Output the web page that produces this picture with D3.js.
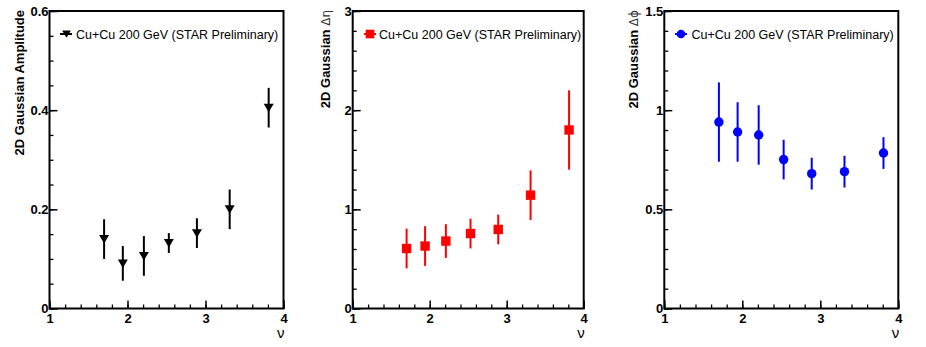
<!DOCTYPE html>
<html>
<head>
<meta charset="utf-8">
<script src="https://cdn.jsdelivr.net/npm/d3@7"></script>
<style>
  body { margin: 0; background: #fff; }
  svg { display: block; }
  text { font-family: "Liberation Sans", Arial, Helvetica, sans-serif; }
</style>
</head>
<body>
<div id="chart"></div>
<script>
// nu = N_bin / (N_part/2)
var nu = [1.70, 1.94, 2.21, 2.53, 2.89, 3.31, 3.81];

var amplitude    = [0.140, 0.091, 0.106, 0.132, 0.152, 0.200, 0.405];
var amplitudeErr = [0.040, 0.035, 0.040, 0.020, 0.030, 0.040, 0.040];

var widthEta    = [0.605, 0.630, 0.680, 0.756, 0.797, 1.143, 1.800];
var widthEtaErr = [0.20, 0.20, 0.17, 0.15, 0.15, 0.25, 0.40];

var widthPhi    = [0.940, 0.890, 0.875, 0.751, 0.680, 0.690, 0.784];
var widthPhiErr = [0.20, 0.15, 0.15, 0.10, 0.08, 0.08, 0.08];

var xTicks   = [1, 2, 3, 4];
var ampTicks = [0, 0.2, 0.4, 0.6];
var etaTicks = [0, 1, 2, 3];
var phiTicks = [0, 0.5, 1, 1.5];

var legendLabel = "Cu+Cu 200 GeV (STAR Preliminary)";

var W = 926, H = 347, plotTop = 11, plotBottom = 308.5;

var panels = [
  { left: 49.5, right: 283.5, values: amplitude, errs: amplitudeErr, yTicks: ampTicks, minor: 0.05,
    color: "#000", marker: "tri", title: ["2D Gaussian Amplitude", ""], titleX: 23.5,
    legX: 60, legM: 66.5, legT: 76 },
  { left: 352.7, right: 583.7, values: widthEta, errs: widthEtaErr, yTicks: etaTicks, minor: 0.2,
    color: "#ff0000", marker: "square", title: ["2D Gaussian ", "\u0394\u03b7"], titleX: 329.5,
    legX: 364, legM: 370, legT: 379 },
  { left: 664.3, right: 898.3, values: widthPhi, errs: widthPhiErr, yTicks: phiTicks, minor: 0.1,
    color: "#0000ff", marker: "circle", title: ["2D Gaussian ", "\u0394\u03d5"], titleX: 637.5,
    legX: 675, legM: 681, legT: 691.5 }
];

var svg = d3.select("#chart").append("svg")
  .attr("width", W)
  .attr("height", H);

function drawMarker(sel, type, color, s) {
  if (type == "tri") {
    sel.append("path")
      .attr("d", "M" + (-s) + "," + (-s * 0.8) + "L" + s + "," + (-s * 0.8) + "L0," + (s * 0.9) + "Z")
      .attr("fill", color);
  } else if (type == "square") {
    sel.append("rect")
      .attr("x", -s).attr("y", -s)
      .attr("width", 2 * s).attr("height", 2 * s)
      .attr("fill", color);
  } else {
    sel.append("circle").attr("r", s).attr("fill", color);
  }
}

panels.forEach(function(p) {
  var ymax = p.yTicks[p.yTicks.length - 1];
  var x = d3.scaleLinear().domain([1, 4]).range([p.left, p.right]);
  var y = d3.scaleLinear().domain([0, ymax]).range([plotBottom, plotTop]);

  var g = svg.append("g");

  // minor ticks
  g.append("g")
    .attr("transform", "translate(0," + plotBottom + ")")
    .call(d3.axisBottom(x).tickValues(d3.range(1, 4.001, 0.2)).tickSize(-4).tickFormat(""))
    .call(function(a) { a.select(".domain").remove(); a.selectAll("line").attr("stroke-width", 1.3); });

  g.append("g")
    .attr("transform", "translate(" + p.left + ",0)")
    .call(d3.axisLeft(y).tickValues(d3.range(0, ymax + 1e-6, p.minor)).tickSize(-4).tickFormat(""))
    .call(function(a) { a.select(".domain").remove(); a.selectAll("line").attr("stroke-width", 1.3); });

  // major ticks + labels
  g.append("g")
    .attr("transform", "translate(0," + plotBottom + ")")
    .call(d3.axisBottom(x).tickValues(xTicks).tickSize(-8).tickPadding(5).tickFormat(d3.format("d")))
    .call(function(a) {
      a.select(".domain").remove();
      a.selectAll("line").attr("stroke-width", 1.5);
      a.selectAll("text").attr("font-size", 13).attr("font-weight", "bold").attr("fill", "#000")
        .attr("y", 14).attr("dy", 0);
    });

  g.append("g")
    .attr("transform", "translate(" + p.left + ",0)")
    .call(d3.axisLeft(y).tickValues(p.yTicks).tickSize(-8).tickPadding(1).tickFormat(function(d) { return String(d); }))
    .call(function(a) {
      a.select(".domain").remove();
      a.selectAll("line").attr("stroke-width", 1.5);
      a.selectAll("text").attr("font-size", 13).attr("font-weight", "bold").attr("fill", "#000");
    });

  // frame
  g.append("rect")
    .attr("x", p.left).attr("y", plotTop)
    .attr("width", p.right - p.left).attr("height", plotBottom - plotTop)
    .attr("fill", "none").attr("stroke", "#000").attr("stroke-width", 2);

  // axis titles
  var t = g.append("text")
    .attr("transform", "translate(" + p.titleX + "," + (plotTop - 1) + ") rotate(-90)")
    .attr("text-anchor", "end")
    .attr("font-size", 13)
    .attr("font-weight", "bold");
  t.append("tspan").text(p.title[0]);
  if (p.title[1]) {
    t.append("tspan").attr("font-weight", "normal").attr("font-family", "DejaVu Sans")
      .attr("font-size", 12).attr("fill", "#333").text(p.title[1]);
  }

  g.append("text")
    .attr("x", p.right + 1).attr("y", 338)
    .attr("text-anchor", "end")
    .attr("font-size", 15)
    .text("\u03bd");

  // error bars
  var pts = g.append("g").selectAll("g")
    .data(nu.map(function(v, i) { return { x: v, y: p.values[i], e: p.errs[i] }; }))
    .enter().append("g");

  pts.append("line")
    .attr("x1", function(d) { return x(d.x); })
    .attr("x2", function(d) { return x(d.x); })
    .attr("y1", function(d) { return y(d.y - d.e); })
    .attr("y2", function(d) { return y(d.y + d.e); })
    .attr("stroke", p.color)
    .attr("stroke-width", 2);

  pts.each(function(d) {
    var m = d3.select(this).append("g")
      .attr("transform", "translate(" + x(d.x) + "," + y(d.y) + ")");
    drawMarker(m, p.marker, p.color, p.marker == "tri" ? 5 : 4.7);
  });

  // legend
  var ly = 34;
  g.append("line")
    .attr("x1", p.legX).attr("x2", p.legX + 12)
    .attr("y1", ly).attr("y2", ly)
    .attr("stroke", p.color).attr("stroke-width", 2);
  var lm = g.append("g").attr("transform", "translate(" + p.legM + "," + ly + ")");
  drawMarker(lm, p.marker, p.color, 4.3);
  g.append("text")
    .attr("x", p.legT).attr("y", ly + 4.5)
    .attr("font-size", 12.5)
    .text(legendLabel);
});
</script>
</body>
</html>
